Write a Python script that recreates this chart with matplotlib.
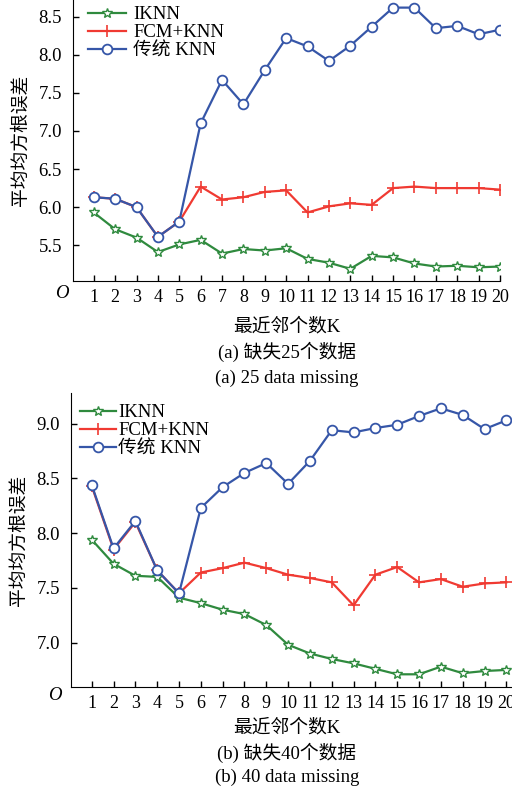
import matplotlib
matplotlib.use('Agg')
import matplotlib.pyplot as plt

plt.rcParams['font.family'] = ['Liberation Serif', 'Noto Sans CJK SC']

k_values = list(range(1, 21))

# (a) 25 missing
iknn_25 = [5.93, 5.71, 5.60, 5.41, 5.51, 5.57, 5.39, 5.45, 5.43, 5.46,
           5.32, 5.27, 5.19, 5.36, 5.34, 5.26, 5.22, 5.23, 5.21, 5.22]
fcm_25 = [6.13, 6.11, 6.00, 5.61, 5.81, 6.27, 6.10, 6.13, 6.20, 6.22,
          5.93, 6.01, 6.05, 6.03, 6.25, 6.27, 6.25, 6.25, 6.25, 6.23]
knn_25 = [6.13, 6.11, 6.00, 5.61, 5.81, 7.10, 7.67, 7.35, 7.80, 8.22,
          8.11, 7.92, 8.12, 8.37, 8.62, 8.62, 8.35, 8.38, 8.27, 8.33]

# (b) 40 missing
iknn_40 = [7.94, 7.72, 7.61, 7.60, 7.41, 7.36, 7.30, 7.26, 7.16, 6.98,
           6.90, 6.85, 6.81, 6.76, 6.71, 6.71, 6.78, 6.72, 6.74, 6.75]
fcm_40 = [8.43, 7.85, 8.10, 7.66, 7.45, 7.64, 7.68, 7.73, 7.68, 7.62,
          7.59, 7.55, 7.34, 7.62, 7.69, 7.55, 7.58, 7.51, 7.54, 7.55]
knn_40 = [8.44, 7.86, 8.11, 7.66, 7.45, 8.23, 8.42, 8.55, 8.64, 8.45,
          8.66, 8.94, 8.92, 8.96, 8.99, 9.07, 9.14, 9.08, 8.95, 9.03]

labels = ['IKNN', 'FCM+KNN', '传统 KNN']
yticks_a = [5.5, 6.0, 6.5, 7.0, 7.5, 8.0, 8.5]
yticks_b = [7.0, 7.5, 8.0, 8.5, 9.0]

green = '#2f8a3e'
red = '#f03a32'
blue = '#3656a8'

W, H = 512, 790
fig = plt.figure(figsize=(W / 100, H / 100), dpi=100)


def px_axes(left, right, top, bottom):
    return fig.add_axes([left / W, 1 - bottom / H, (right - left) / W, (bottom - top) / H])


def draw_panel(ax, iknn, fcm, knn, yticks, ylim, xlim):
    ax.plot(k_values, iknn, color=green, lw=1.6, marker='*', ms=7.5,
            mfc='white', mec=green, mew=1.0, label=labels[0], zorder=3)
    ax.plot(k_values, fcm, color=red, lw=1.6, marker='+', ms=8,
            mew=1.2, label=labels[1], zorder=2)
    ax.plot(k_values, knn, color=blue, lw=1.6, marker='o', ms=7,
            mfc='white', mec=blue, mew=1.3, label=labels[2], zorder=4)
    ax.set_xlim(*xlim)
    ax.set_ylim(*ylim)
    ax.set_xticks(k_values)
    ax.set_yticks(yticks)
    ax.set_yticklabels([f'{v:.1f}' for v in yticks])
    for s in ['top', 'right']:
        ax.spines[s].set_visible(False)
    ax.tick_params(direction='in', length=4, width=1)
    ax.tick_params(axis='x', pad=6, labelsize=13)
    ax.tick_params(axis='y', pad=8, labelsize=13.5)
    ax.set_ylabel('平均均方根误差', fontsize=13.5, labelpad=6)


# panel (a)
ax1 = px_axes(73, 500, 0, 281)
draw_panel(ax1, iknn_25, fcm_25, knn_25, yticks_a, (5.03, 8.72), (0.03, 20))
ax1.legend(loc='upper left', bbox_to_anchor=(88 / W, 1 - 6 / H),
           bbox_transform=fig.transFigure, frameon=False, fontsize=13.5,
           handlelength=2.0, handletextpad=0.4, labelspacing=0.05,
           borderpad=0, borderaxespad=0)
fig.text(62 / W, 1 - 293 / H, 'O', style='italic', fontsize=13.5, ha='center', va='center')
fig.text(287 / W, 1 - 327 / H, '最近邻个数K', fontsize=13.5, ha='center', va='center')
fig.text(287 / W, 1 - 352 / H, '(a) 缺失25个数据', fontsize=13.5, ha='center', va='center')
fig.text(287 / W, 1 - 378 / H, '(a) 25 data missing', fontsize=13.5, ha='center', va='center')

# panel (b)
ax2 = px_axes(71, 512, 393, 687)
draw_panel(ax2, iknn_40, fcm_40, knn_40, yticks_b, (6.594, 9.28), (0.05, 20.26))
ax2.legend(loc='upper left', bbox_to_anchor=(80 / W, 1 - 404 / H),
           bbox_transform=fig.transFigure, frameon=False, fontsize=13.5,
           handlelength=1.9, handletextpad=0.15, labelspacing=0.05,
           borderpad=0, borderaxespad=0)
fig.text(55 / W, 1 - 695 / H, 'O', style='italic', fontsize=13.5, ha='center', va='center')
fig.text(287 / W, 1 - 728 / H, '最近邻个数K', fontsize=13.5, ha='center', va='center')
fig.text(287 / W, 1 - 753 / H, '(b) 缺失40个数据', fontsize=13.5, ha='center', va='center')
fig.text(287 / W, 1 - 777 / H, '(b) 40 data missing', fontsize=13.5, ha='center', va='center')

fig.savefig('out.png', dpi=100)
